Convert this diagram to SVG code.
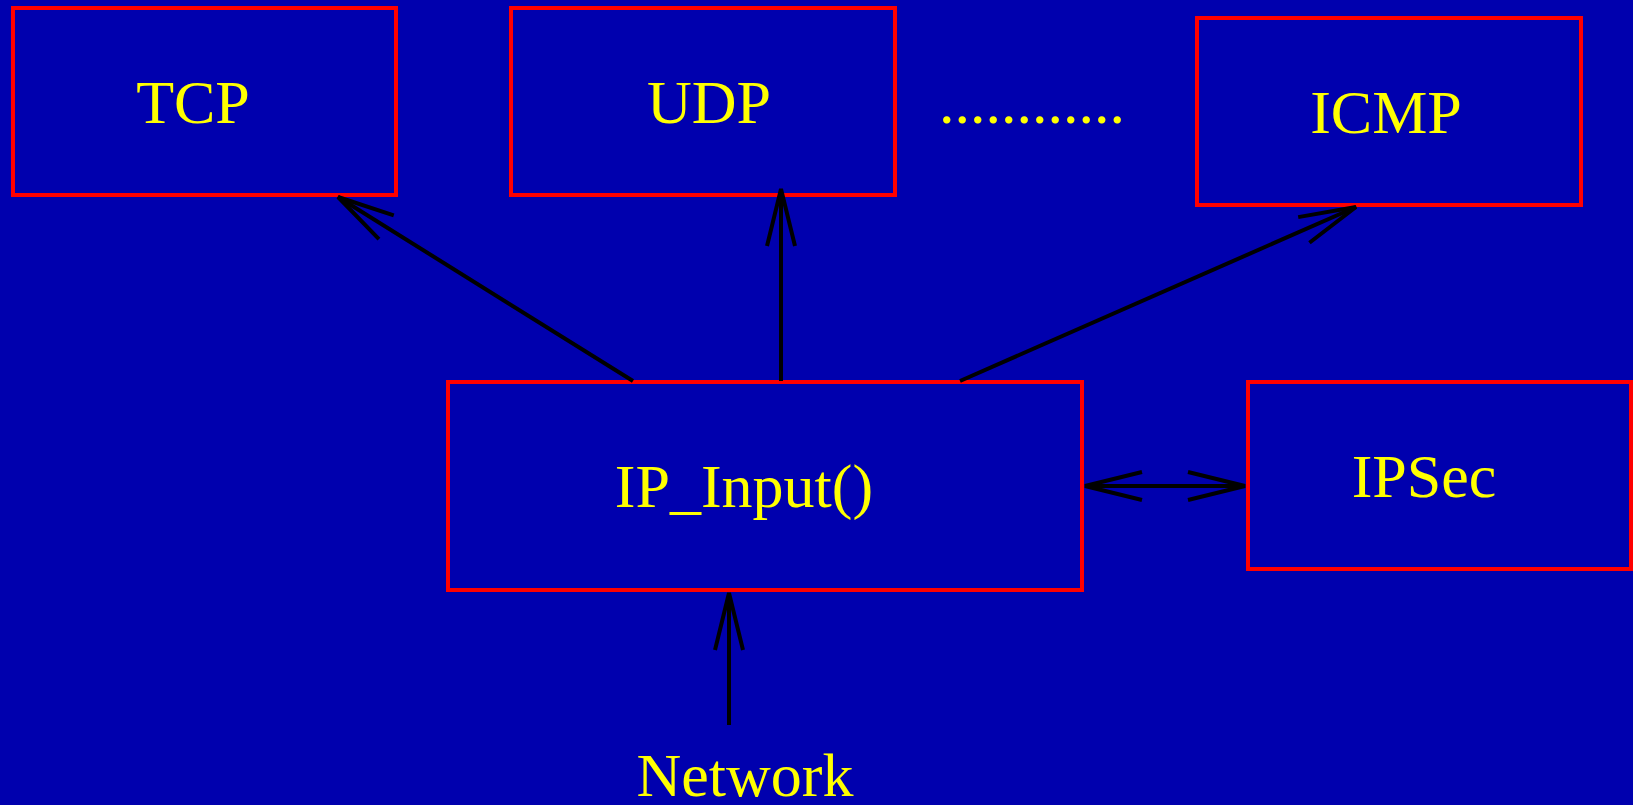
<svg xmlns="http://www.w3.org/2000/svg" width="1633" height="805" viewBox="0 0 1633 805">
  <style>
    .box { fill: #0000AE; stroke: #FF0000; stroke-width: 4; }
    .label { font-family: "Liberation Serif", "Times New Roman", serif; font-size: 62px; fill: #FFFF00; text-anchor: middle; }
    .edge { fill: none; stroke: #000000; stroke-width: 4; }
  </style>
  <defs>
    <marker id="open-arrow" markerUnits="userSpaceOnUse" orient="auto-start-reverse" refX="0" refY="0" markerWidth="1" markerHeight="1" overflow="visible">
      <path d="M-57,-14 L0,0 L-57,14" fill="none" stroke="#000000" stroke-width="4"/>
    </marker>
  </defs>

  <rect x="0" y="0" width="1633" height="805" fill="#0000AE"/>

  <g id="tcp">
    <rect class="box" x="13" y="8" width="383" height="187"/>
    <text class="label" x="193" y="123">TCP</text>
  </g>
  <g id="udp">
    <rect class="box" x="511" y="8" width="384" height="187"/>
    <text class="label" x="709" y="123">UDP</text>
  </g>
  <g id="more">
    <text class="label" x="1032" y="123">............</text>
  </g>
  <g id="icmp">
    <rect class="box" x="1197" y="18" width="384" height="187"/>
    <text class="label" x="1386" y="133">ICMP</text>
  </g>
  <g id="ip-input">
    <rect class="box" x="448" y="382" width="634" height="208"/>
    <text class="label" x="744" y="507">IP_Input()</text>
  </g>
  <g id="ipsec">
    <rect class="box" x="1248" y="382" width="383" height="187"/>
    <text class="label" x="1424" y="497">IPSec</text>
  </g>
  <g id="network">
    <text class="label" x="745" y="796">Network</text>
  </g>

  <g id="connectors">
    <line class="edge" x1="633" y1="381" x2="338" y2="197" marker-end="url(#open-arrow)"/>
    <line class="edge" x1="781" y1="381" x2="781" y2="189" marker-end="url(#open-arrow)"/>
    <line class="edge" x1="960" y1="381" x2="1356" y2="207" marker-end="url(#open-arrow)"/>
    <line class="edge" x1="1085" y1="486" x2="1245" y2="486" marker-start="url(#open-arrow)" marker-end="url(#open-arrow)"/>
    <line class="edge" x1="729" y1="725" x2="729" y2="593" marker-end="url(#open-arrow)"/>
  </g>
</svg>
